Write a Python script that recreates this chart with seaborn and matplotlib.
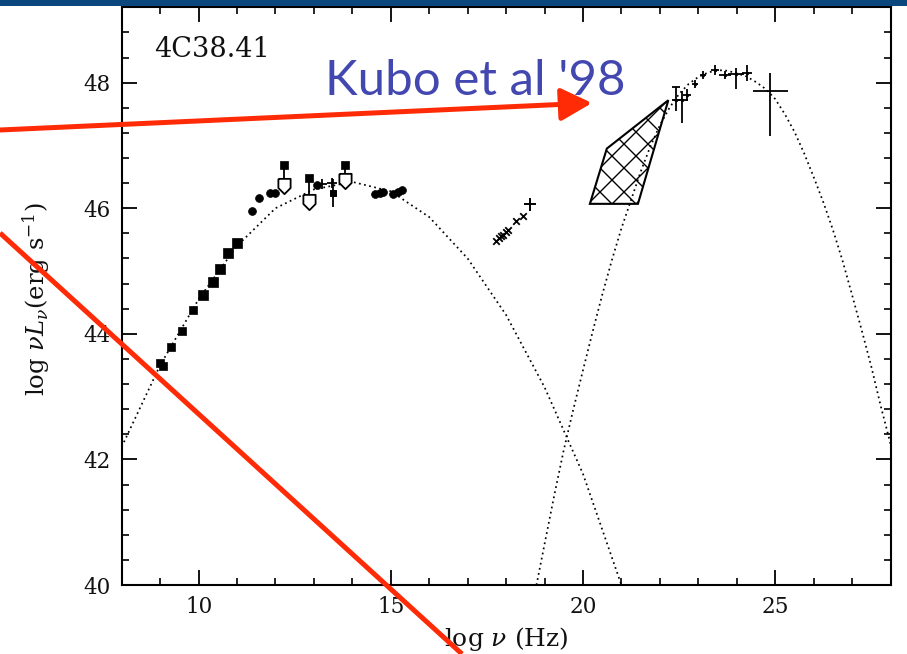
import matplotlib
matplotlib.use("Agg")
import matplotlib.pyplot as plt
import seaborn as sns
from matplotlib.patches import Rectangle, FancyArrowPatch
from matplotlib.lines import Line2D
from matplotlib.ticker import MultipleLocator

# ---------------- data: 4C38.41 spectral energy distribution ----------------
# synchrotron model (log nu [Hz], log nuL_nu [erg/s])
sync_model_x = [8, 9, 10, 11, 12, 13, 14, 15, 16, 17, 18, 19, 20, 21]
sync_model_y = [42.2, 43.5, 44.55, 45.4, 46.0, 46.3, 46.42, 46.27, 45.86,
                45.2, 44.3, 43.15, 41.77, 40.0]

# inverse-Compton model
ic_model_x = [18.79, 19.0, 19.25, 19.5, 19.75, 20.0, 20.25, 20.5, 20.75, 21.0,
              21.25, 21.5, 21.75, 22.0, 22.25, 22.5, 22.75, 23.0, 23.25, 23.5,
              23.75, 24.0, 24.25, 24.5, 24.75, 25.0, 25.25, 25.5, 25.75, 26.0,
              26.25, 26.5, 26.75, 27.0, 27.25, 27.5, 27.75, 28.0]
ic_model_y = [40.0, 40.65, 41.42, 42.15, 42.8, 43.42, 44.03, 44.62, 45.17, 45.68,
              46.13, 46.58, 46.98, 47.32, 47.6, 47.82, 47.98, 48.09, 48.16, 48.2,
              48.19, 48.15, 48.1, 48.01, 47.9, 47.74, 47.5, 47.22, 46.88, 46.5,
              46.1, 45.66, 45.17, 44.62, 44.06, 43.48, 42.84, 42.25]

# radio / mm points
radio_small_x = [9.0, 9.07, 9.27, 9.56, 9.86]
radio_small_y = [43.53, 43.48, 43.79, 44.05, 44.38]
radio_big_x = [10.11, 10.38, 10.56, 10.77, 10.99]
radio_big_y = [44.62, 44.83, 45.04, 45.28, 45.44]

# IR / optical / UV points
opt_x = [11.38, 11.58, 11.86, 11.99, 13.07, 14.59, 14.72, 14.8, 15.07, 15.2, 15.28]
opt_y = [45.95, 46.16, 46.24, 46.24, 46.37, 46.23, 46.24, 46.26, 46.23, 46.26, 46.29]
opt_plus_x = [13.2, 13.46]
opt_plus_y = [46.38, 46.4]
opt_err_x = [13.49]
opt_err_y = [46.24]
opt_err_dy = [0.22]

# upper limits (detection on top, open arrow below)
lim_x = [12.23, 12.88, 13.81]
lim_top = [46.69, 46.48, 46.69]
lim_arrow = [46.36, 46.1, 46.43]

# X-ray points
xray_x = [17.75, 17.81, 17.87, 17.93, 17.99, 18.05, 18.27, 18.43]
xray_y = [45.48, 45.52, 45.55, 45.58, 45.62, 45.65, 45.79, 45.88]
xray_big_x = [18.63]
xray_big_y = [46.06]
xray_big_dx = [0.16]
xray_big_dy = [0.11]

# gamma-ray bow-tie
bowtie_x = [20.18, 21.43, 22.22, 20.62]
bowtie_y = [46.07, 46.07, 47.72, 46.95]

# EGRET points
gam_x = [22.42, 22.57, 22.7, 22.91, 23.13, 23.43, 23.69, 23.98, 24.26, 24.87]
gam_y = [47.72, 47.72, 47.8, 47.98, 48.12, 48.2, 48.12, 48.14, 48.15, 47.86]
gam_dx = [0.1, 0.15, 0.1, 0.08, 0.08, 0.1, 0.16, 0.2, 0.13, 0.46]
gam_dy_lo = [0.17, 0.37, 0.1, 0.06, 0.06, 0.08, 0.06, 0.24, 0.13, 0.71]
gam_dy_hi = [0.21, 0.14, 0.1, 0.06, 0.06, 0.08, 0.06, 0.09, 0.13, 0.29]

x_ticks = [10, 15, 20, 25]
y_ticks = [40, 42, 44, 46, 48]

# ---------------- figure ----------------
DPI = 72
K = 100 / DPI          # sizes below are tuned in 1/100-inch units


def p(v):
    return v * K


sns.set_theme(style="ticks")
plt.rcParams["font.family"] = ["DejaVu Serif"]
plt.rcParams["mathtext.fontset"] = "dejavuserif"
plt.rcParams["hatch.linewidth"] = p(1.0)
plt.rcParams["hatch.color"] = "black"

W, H = 907, 654
fig = plt.figure(figsize=(W / DPI, H / DPI), dpi=DPI, facecolor="white")
ax = fig.add_axes([121.7 / W, 1 - 585 / H, (890.5 - 121.7) / W, (585 - 7.3) / H])
ax.set_facecolor("white")

dotted = (0, (1.0, 2.0))
sns.lineplot(x=sync_model_x, y=sync_model_y, ax=ax, sort=False, estimator=None,
             color="black", lw=p(1.25), linestyle=dotted)
sns.lineplot(x=ic_model_x, y=ic_model_y, ax=ax, sort=False, estimator=None,
             color="black", lw=p(1.25), linestyle=dotted)

# radio squares
sns.scatterplot(x=radio_small_x, y=radio_small_y, ax=ax, marker="s", s=p(p(30)),
                color="black", edgecolor="black", linewidth=p(0.5))
sns.scatterplot(x=radio_big_x, y=radio_big_y, ax=ax, marker="s", s=p(p(56)),
                color="black", edgecolor="black", linewidth=p(0.5))

# optical blobs
sns.scatterplot(x=opt_x, y=opt_y, ax=ax, marker="o", s=p(p(32)),
                color="black", edgecolor="black", linewidth=p(0.5))
sns.scatterplot(x=opt_plus_x, y=opt_plus_y, ax=ax, marker="+", s=p(p(45)),
                color="black", linewidth=p(1.3))
ax.errorbar(opt_err_x, opt_err_y, yerr=opt_err_dy, fmt="s", ms=p(4.5),
            color="black", elinewidth=p(1.3), capsize=0)

# upper limits
ax.vlines(lim_x, lim_arrow, lim_top, color="black", lw=p(1.3))
sns.scatterplot(x=lim_x, y=lim_top, ax=ax, marker="s", s=p(p(28)),
                color="black", edgecolor="black", linewidth=p(0.5))
arrow_marker = [(-0.8, 1.0), (0.8, 1.0), (0.8, -0.2), (0.0, -1.0), (-0.8, -0.2), (-0.8, 1.0)]
ax.plot(lim_x, lim_arrow, linestyle="none", marker=arrow_marker, ms=p(11),
        mfc="white", mec="black", mew=p(1.3))

# X-ray
sns.scatterplot(x=xray_x, y=xray_y, ax=ax, marker="x", s=p(p(22)),
                color="black", linewidth=p(1.3))
ax.errorbar(xray_big_x, xray_big_y, xerr=xray_big_dx, yerr=xray_big_dy,
            fmt="none", ecolor="black", elinewidth=p(1.4), capsize=0)

# bow-tie
ax.fill(bowtie_x, bowtie_y, facecolor="none", edgecolor="black",
        hatch="x", lw=p(1.5), zorder=3)

# EGRET
ax.errorbar(gam_x, gam_y, xerr=gam_dx, yerr=[gam_dy_lo, gam_dy_hi],
            fmt="none", ecolor="black", elinewidth=p(1.3), capsize=0)
ax.hlines([gam_y[0] + gam_dy_hi[0]], gam_x[0] - 0.11, gam_x[0] + 0.11,
          color="black", lw=p(1.3))
sns.scatterplot(x=gam_x[:-1], y=gam_y[:-1], ax=ax, marker="o", s=p(p(6)),
                color="black", edgecolor="black", linewidth=0)

# axes styling
ax.set_xlim(8, 28)
ax.set_ylim(40, 49.2)
ax.xaxis.set_major_locator(MultipleLocator(5))
ax.xaxis.set_minor_locator(MultipleLocator(1))
ax.yaxis.set_major_locator(MultipleLocator(2))
ax.yaxis.set_minor_locator(MultipleLocator(0.4))
ax.set_xticks(x_ticks)
ax.set_yticks(y_ticks)
ax.set_xticklabels([str(v) for v in x_ticks])
ax.set_yticklabels([str(v) for v in y_ticks])
ax.tick_params(which="both", direction="in", top=True, right=True,
               color="black", labelcolor="#111111", labelsize=p(15.5), pad=p(8))
ax.tick_params(which="major", length=p(10.5), width=p(1.3))
ax.tick_params(which="minor", length=p(5), width=p(1.2))
for sp in ax.spines.values():
    sp.set_color("black")
    sp.set_linewidth(p(1.5))

ax.set_xlabel(r"log $\nu$ (Hz)", fontsize=p(18), color="#111111")
ax.xaxis.set_label_coords(0.5, -0.07)
ax.xaxis.label.set_verticalalignment("top")
ax.set_ylabel(r"log $\nu L_\nu$(erg s$^{-1}$)", fontsize=p(17.5), color="#111111")
ax.yaxis.set_label_coords(-0.0907, 0.495)

ax.text(154 / W, 1 - 57 / H, "4C38.41", transform=fig.transFigure,
        fontsize=p(19.5), color="#111111", ha="left", va="baseline")

# ---------------- overlay annotations ----------------
fig.add_artist(Rectangle((0, 1 - 6 / H), 1, 6 / H, transform=fig.transFigure,
                         facecolor="#0b467c", edgecolor="none", zorder=5))

red = "#ff2b06"
fig.text(325 / W, 1 - 95 / H, "Kubo et al '98", fontsize=p(35.5), color="#4347b0",
         family=["Lato", "DejaVu Sans"], ha="left", va="baseline", zorder=6)

fig.add_artist(FancyArrowPatch(posA=(0, 1 - 130 / H), posB=(592 / W, 1 - 103 / H),
                               transform=fig.transFigure,
                               arrowstyle="-|>,head_length=%.2f,head_width=%.2f" % (p(19), p(10)),
                               mutation_scale=1, lw=p(3.6), color=red,
                               shrinkA=0, shrinkB=0, zorder=6))
fig.add_artist(Line2D([0, 462 / W], [1 - 233 / H, 0], transform=fig.transFigure,
                      lw=p(3.6), color=red, solid_capstyle="butt", zorder=6))

fig.savefig("out.png", dpi=DPI, facecolor="white")
